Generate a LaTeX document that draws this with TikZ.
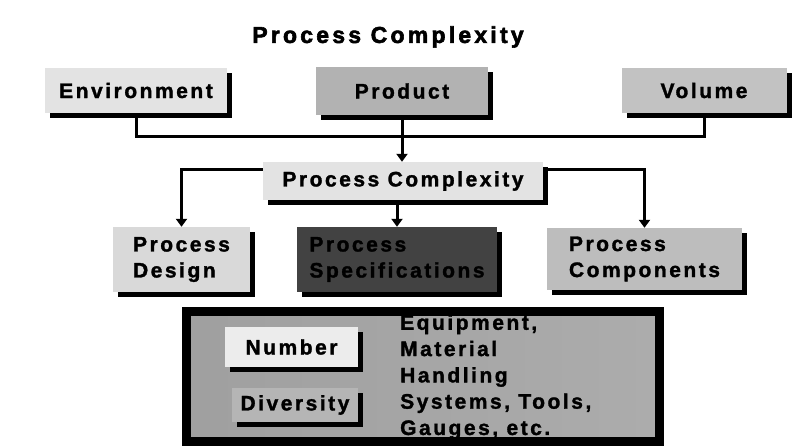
\documentclass[tikz,border=0pt]{standalone}
\usepackage{fontspec}
\setmainfont{Liberation Sans}[LetterSpace=12,BoldFeatures={FakeBold=1.5}]
\newfontfamily\headfont{Liberation Sans}[LetterSpace=14,BoldFeatures={FakeBold=2.5}]
\usetikzlibrary{arrows.meta,shadows}

\begin{document}
\begin{tikzpicture}[x=1pt,y=-1pt,
    plate/.style={fill=#1,inner sep=0pt,align=left,
        font=\fontsize{21}{26}\selectfont\bfseries,
        drop shadow={shadow xshift=5pt,shadow yshift=-5pt,fill=black,opacity=1}},
    link/.style={line width=3pt,black},
    feed/.style={link,-{Triangle[width=11pt,length=8pt]}}]
    \useasboundingbox (0,0) rectangle (801,446);

    % Heading
    \node[font=\headfont\fontsize{23}{25}\selectfont\bfseries] (title) at (388,37) {Process Complexity};

    % Sources of complexity
    \node[plate=gray!22, minimum width=182pt, minimum height=45pt] (env) at (136,90.5) {Environment};
    \node[plate=gray!60, minimum width=172pt, minimum height=48pt] (prod) at (402,91) {Product};
    \node[plate=gray!48, minimum width=165pt, minimum height=45pt] (vol) at (704,90.5) {Volume};

    % Central box
    \node[plate=gray!22, minimum width=280pt, minimum height=38pt] (pc) at (403,181) {Process Complexity};

    % Results
    \node[plate=gray!30, minimum width=137pt, minimum height=65pt] (design) at (181.5,259.5) {Process\\Design};
    \node[plate=black!74, minimum width=200pt, minimum height=65pt, text=black] (spec) at (397,259.5) {Process\\Specifications};
    \node[plate=gray!52, minimum width=195pt, minimum height=62pt] (comp) at (644.5,259) {Process\\Components};

    % Collecting bus
    \coordinate (busL) at (136,137);
    \coordinate (busR) at (704,137);
    \coordinate (busM) at (402,137);
    \draw[link] (env.south) -- (busL) -- (busR) -- (vol.south);
    \draw[link] (prod.south) -- (busM);
    \draw[feed] (busM) -- (busM |- pc.north);

    % Branches
    \coordinate (pcL) at ([yshift=11pt]pc.west);
    \coordinate (pcR) at ([yshift=11pt,xshift=5pt]pc.east);
    \draw[feed] (pcL) -| (design.north);
    \draw[feed] (pcR) -| (comp.north);
    \draw[feed] (spec.north |- pc.south) -- (spec.north);

    % Resource panel
    \shade[left color=gray!75, middle color=gray!40, right color=gray!65] (186,312) rectangle (659,441);
    \node[plate=gray!15, minimum width=133pt, minimum height=40pt] (num) at (291.5,347) {Number};
    \node[plate=gray!58, minimum width=126pt, minimum height=34pt, text=black] (div) at (295,405) {Diversity};
    \node[anchor=west, align=left, inner sep=0pt, font=\fontsize{21}{26.3}\selectfont\bfseries] (gear) at (400,377)
        {Equipment,\\Material\\Handling\\Systems, Tools,\\Gauges, etc.};
    \draw[line width=9pt] (186,312) rectangle (659,441);
\end{tikzpicture}
\end{document}
